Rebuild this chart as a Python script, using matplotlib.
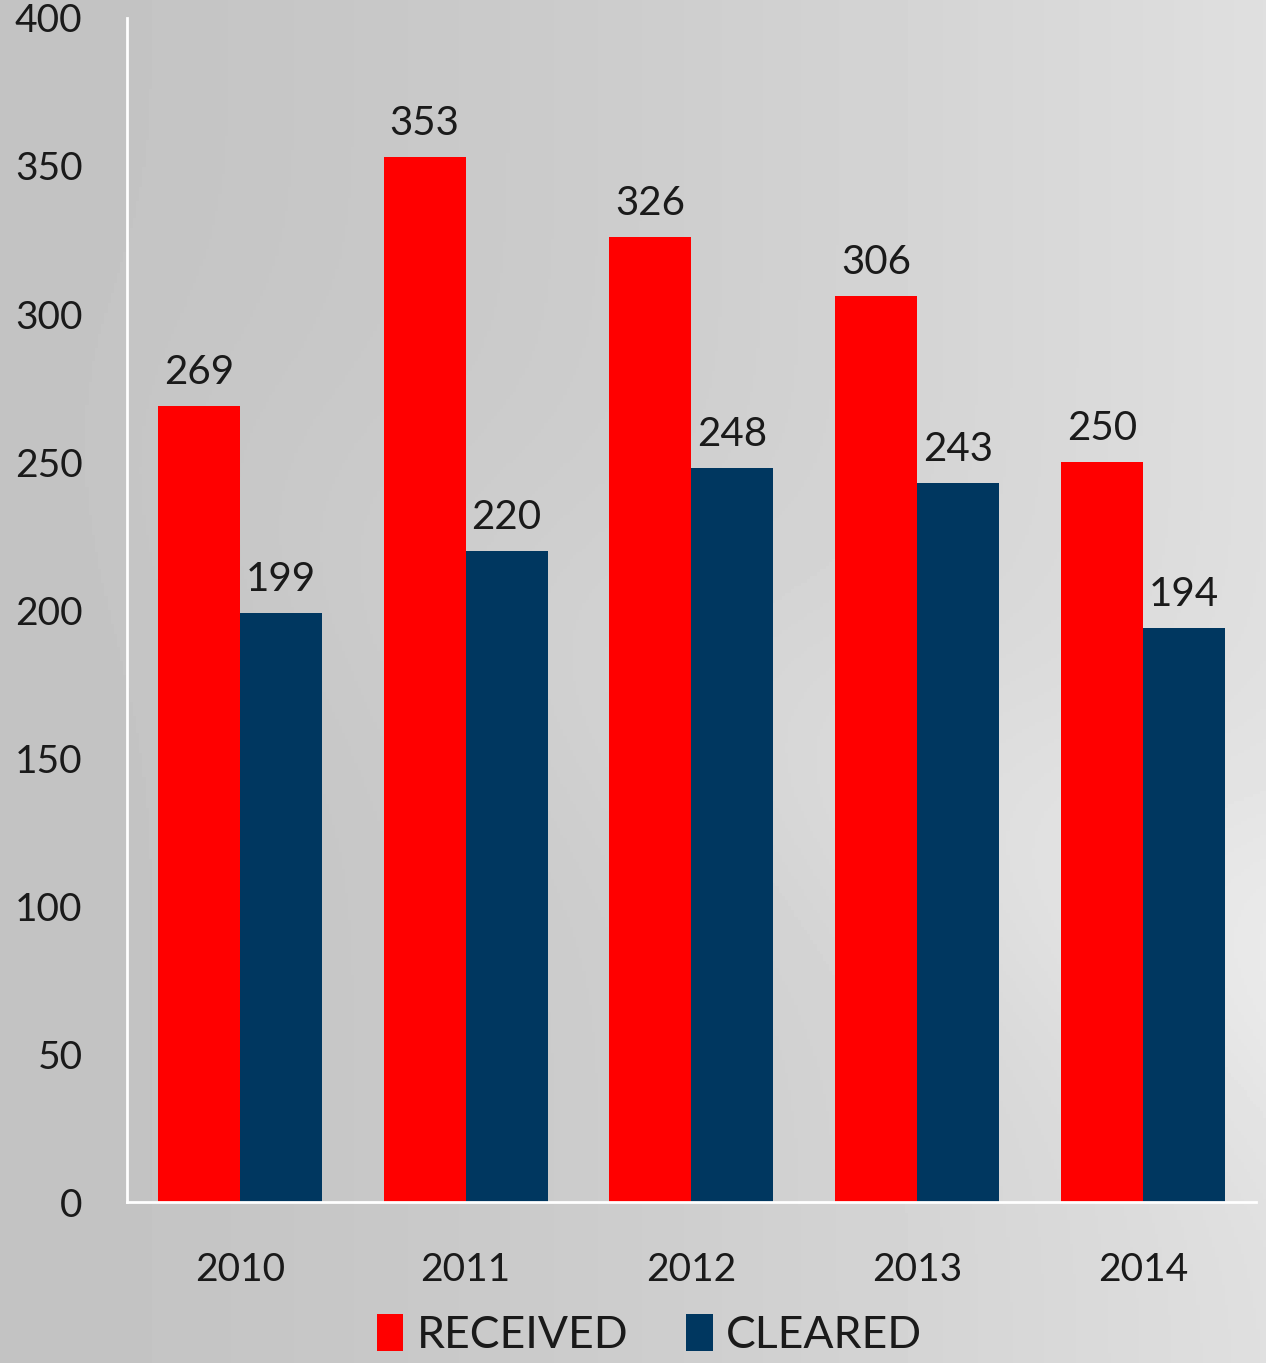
import numpy as np
import matplotlib
matplotlib.use('Agg')
import matplotlib.pyplot as plt

years = ['2010', '2011', '2012', '2013', '2014']
received = [269, 353, 326, 306, 250]
cleared = [199, 220, 248, 243, 194]

plt.rcParams['font.family'] = ['Lato', 'DejaVu Sans']

fig = plt.figure(figsize=(12.66, 13.63), dpi=100)

# gray gradient background
bg = fig.add_axes([0, 0, 1, 1], zorder=0)
gx = np.linspace(0, 1, 400)
gy = np.linspace(0, 1, 400)
X, Y = np.meshgrid(gx, gy)
shade = 0.765 + 0.11 * X ** 1.5 + 0.04 * np.exp(-((Y - 0.3 - 0.4 * X) ** 2) / 0.02) * X
bg.imshow(shade, cmap='gray', vmin=0, vmax=1, aspect='auto', extent=[0, 1, 0, 1])
bg.axis('off')

ax = fig.add_axes([0.1003, 0.1181, 0.8917, 0.8687], zorder=1)
ax.patch.set_alpha(0)

x = np.arange(len(years))
w = 0.363
ax.bar(x - w / 2, received, w, color='#ff0000', label='RECEIVED')
ax.bar(x + w / 2, cleared, w, color='#003760', label='CLEARED')

for i in range(len(years)):
    ax.text(x[i] - w / 2, received[i] + 5, str(received[i]), ha='center', va='bottom',
            fontsize=29, color='#1a1a1a')
    ax.text(x[i] + w / 2, cleared[i] + 5, str(cleared[i]), ha='center', va='bottom',
            fontsize=29, color='#1a1a1a')

ax.set_xlim(-0.5, 4.5)
ax.set_ylim(0, 400)
ax.set_yticks(range(0, 401, 50))
ax.set_xticks(x)
ax.set_xticklabels(years)
ax.tick_params(axis='both', length=0, labelsize=28, labelcolor='#1a1a1a')
ax.tick_params(axis='x', pad=36)
ax.tick_params(axis='y', pad=32)

for s in ['top', 'right']:
    ax.spines[s].set_visible(False)
ax.spines['left'].set_color('white')
ax.spines['bottom'].set_color('white')
ax.spines['left'].set_linewidth(2)
ax.spines['bottom'].set_linewidth(2)

fig.legend(loc='lower center', bbox_to_anchor=(0.513, -0.024), ncol=2, frameon=False,
           fontsize=32, handlelength=0.6, handleheight=0.9, handletextpad=0.3,
           columnspacing=1.3, labelcolor='#1a1a1a')

fig.savefig('out.png', dpi=100)
